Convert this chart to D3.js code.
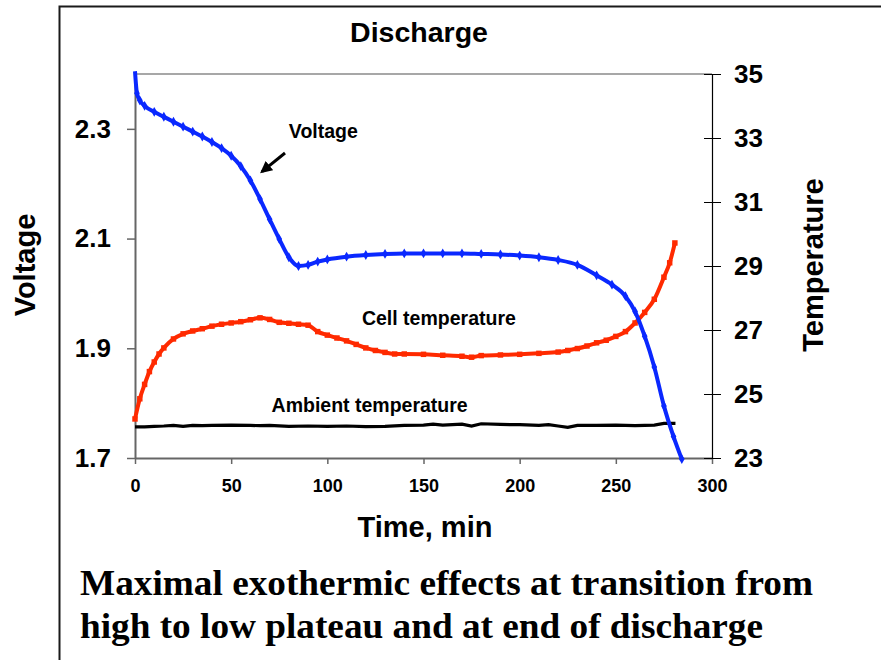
<!DOCTYPE html>
<html>
<head>
<meta charset="utf-8">
<style>
body {
  margin: 0;
  background: #ffffff;
  width: 881px;
  height: 660px;
  overflow: hidden;
}
.axis text {
  font-family: "Liberation Sans", Arial, Helvetica, sans-serif;
  font-weight: bold;
  fill: #000;
}
.title, .anno {
  font-family: "Liberation Sans", Arial, Helvetica, sans-serif;
  font-weight: bold;
  fill: #000;
}
.caption {
  font-family: "Liberation Serif", "Times New Roman", serif;
  font-weight: bold;
  fill: #000;
}
</style>
</head>
<body>
<svg width="881" height="660"></svg>
<script src="https://d3js.org/d3.v7.min.js"></script>
<script>

// ---- data ----
var timeV = [0, 1, 2.5, 5, 10, 15, 20, 25, 30, 35, 40, 45, 50, 55, 60, 65, 70, 75, 80, 85,
  90, 95, 100, 110, 120, 130, 140, 150, 160, 170, 180, 190, 200, 210, 220, 230, 240,
  248, 255, 260, 265, 270, 275, 280, 284.3];
var voltage = [2.405, 2.365, 2.352, 2.342, 2.331, 2.322, 2.313, 2.304, 2.295, 2.286, 2.276, 2.265, 2.251, 2.232, 2.206, 2.172, 2.135, 2.099, 2.066, 2.050,
  2.052, 2.058, 2.062, 2.067, 2.070, 2.072, 2.073, 2.073, 2.073, 2.073, 2.072, 2.071, 2.069, 2.066, 2.061, 2.052, 2.033,
  2.016, 1.995, 1.967, 1.922, 1.866, 1.795, 1.739, 1.698];

var timeCell = [0, 2.5, 5, 7.5, 10, 12.5, 15, 20, 25, 30, 35, 40, 45, 50, 55, 60, 65, 70, 75, 80,
  85, 90, 95, 100, 105, 110, 115, 120, 125, 130, 135, 140, 150, 160, 170, 175, 180, 190, 200,
  210, 220, 225, 230, 235, 240, 245, 250, 255, 260, 265, 270, 275, 278, 280.7];
var cellTemp = [24.22, 24.85, 25.3, 25.7, 26.0, 26.25, 26.44, 26.72, 26.88, 26.97, 27.04, 27.12, 27.18, 27.22, 27.26, 27.32, 27.38, 27.33, 27.24, 27.21,
  27.18, 27.15, 26.95, 26.84, 26.75, 26.66, 26.55, 26.44, 26.36, 26.30, 26.25, 26.25, 26.24, 26.21, 26.18, 26.15, 26.20, 26.22, 26.24,
  26.27, 26.31, 26.36, 26.42, 26.50, 26.60, 26.68, 26.80, 26.95, 27.22, 27.55, 27.96, 28.65, 29.10, 29.72];

var timeAmb = [0, 5, 10, 15, 20, 25, 30, 35, 40, 50, 60, 65, 70, 80, 90, 100, 110, 120, 130, 140,
  150, 155, 160, 170, 175, 180, 190, 200, 210, 215, 220, 225, 230, 240, 250, 260, 270, 275, 281];
var ambTemp = [23.97, 23.97, 23.99, 24.0, 24.02, 23.99, 24.02, 24.01, 24.02, 24.03, 24.02, 24.01, 24.02, 23.99, 24.0, 23.99, 24.0, 23.98, 23.99, 24.02,
  24.03, 24.06, 24.03, 24.06, 24.0, 24.07, 24.05, 24.04, 24.02, 24.04, 24.0, 23.96, 24.02, 24.02, 24.03, 24.01, 24.03, 24.08, 24.08];

var timeTicks = [0, 50, 100, 150, 200, 250, 300];
var voltTicks = [1.7, 1.9, 2.1, 2.3];
var tempTicks = [23, 25, 27, 29, 31, 33, 35];

var titleText = "Discharge";
var captionLines = ["Maximal exothermic effects at transition from",
                    "high to low plateau and at end of discharge"];

// ---- layout ----
var svg = d3.select("svg"),
    margin = {top: 74, right: 169, bottom: 202, left: 135},
    width = +svg.attr("width") - margin.left - margin.right,
    height = +svg.attr("height") - margin.top - margin.bottom;

var x = d3.scaleLinear().domain([0, 300]).range([0, width]),
    yV = d3.scaleLinear().domain([1.7, 2.4]).range([height, 0]),
    yT = d3.scaleLinear().domain([23, 35]).range([height, 0]);

// outer frame (left and top only)
svg.append("path")
    .attr("d", "M59.5,660 V6.5 H881")
    .attr("fill", "none")
    .attr("stroke", "#1a1a1a")
    .attr("stroke-width", 2);

var g = svg.append("g")
    .attr("transform", "translate(" + margin.left + "," + margin.top + ")");

// top border of plot
g.append("line")
    .attr("x1", 0).attr("x2", width)
    .attr("y1", 0).attr("y2", 0)
    .attr("stroke", "#8a8a8a")
    .attr("stroke-width", 1.5);

// left axis (voltage)
var axV = g.append("g")
    .attr("class", "axis axis--v")
    .call(d3.axisLeft(yV).tickValues(voltTicks).tickFormat(d3.format(".1f"))
      .tickSizeInner(8).tickSizeOuter(0).tickPadding(16));
axV.selectAll("text").attr("font-size", 26);

// bottom axis (time)
var axX = g.append("g")
    .attr("class", "axis axis--x")
    .attr("transform", "translate(0," + height + ")")
    .call(d3.axisBottom(x).tickValues(timeTicks)
      .tickSizeInner(6).tickSizeOuter(0).tickPadding(15));
axX.selectAll("text").attr("font-size", 18);

[axV, axX].forEach(function(a) {
  a.select(".domain").attr("stroke", "#666").attr("stroke-width", 2);
  a.selectAll(".tick line").attr("stroke", "#666").attr("stroke-width", 1.5);
});

// right axis (temperature)
var axT = g.append("g")
    .attr("class", "axis axis--t")
    .attr("transform", "translate(" + width + ",0)")
    .call(d3.axisRight(yT).tickValues(tempTicks)
      .tickSizeInner(9).tickSizeOuter(0).tickPadding(13));
axT.selectAll(".tick line").attr("x1", -8).attr("stroke", "#000").attr("stroke-width", 1);
axT.select(".domain").attr("stroke", "#000").attr("stroke-width", 1.2);
axT.selectAll("text").attr("font-size", 26);

// series
var voltData = timeV.map(function(t, i) { return {t: t, v: voltage[i]}; });
var cellData = timeCell.map(function(t, i) { return {t: t, v: cellTemp[i]}; });
var ambData = timeAmb.map(function(t, i) { return {t: t, v: ambTemp[i]}; });

var lineV = d3.line().curve(d3.curveMonotoneX)
    .x(function(d) { return x(d.t); })
    .y(function(d) { return yV(d.v); });
var lineT = d3.line().curve(d3.curveMonotoneX)
    .x(function(d) { return x(d.t); })
    .y(function(d) { return yT(d.v); });
var lineA = d3.line()
    .x(function(d) { return x(d.t); })
    .y(function(d) { return yT(d.v); });

g.append("path")
    .datum(ambData)
    .attr("fill", "none")
    .attr("stroke", "#000")
    .attr("stroke-width", 3.2)
    .attr("d", lineA);

g.append("path")
    .datum(cellData)
    .attr("fill", "none")
    .attr("stroke", "#ff2a00")
    .attr("stroke-width", 4)
    .attr("d", lineT);

g.selectAll(".mk-cell")
    .data(cellData)
  .enter().append("path")
    .attr("class", "mk-cell")
    .attr("transform", function(d) { return "translate(" + x(d.t) + "," + yT(d.v) + ")"; })
    .attr("d", d3.symbol().type(d3.symbolSquare).size(30))
    .attr("fill", "#ff2a00");

g.append("path")
    .datum(voltData)
    .attr("fill", "none")
    .attr("stroke", "#0a28ff")
    .attr("stroke-width", 4)
    .attr("d", lineV);

g.selectAll(".mk-volt")
    .data(voltData.slice(1))
  .enter().append("path")
    .attr("class", "mk-volt")
    .attr("transform", function(d) { return "translate(" + x(d.t) + "," + yV(d.v) + ")"; })
    .attr("d", d3.symbol().type(d3.symbolDiamond).size(28))
    .attr("fill", "#0a28ff");

// annotations
g.append("text")
    .attr("class", "anno")
    .attr("x", x(80))
    .attr("y", yV(2.3) + 9.5)
    .attr("font-size", 19.5)
    .text("Voltage");

g.append("defs").append("marker")
    .attr("id", "head")
    .attr("viewBox", "0 0 10 10")
    .attr("refX", 8).attr("refY", 5)
    .attr("markerWidth", 4).attr("markerHeight", 4)
    .attr("orient", "auto")
  .append("path")
    .attr("d", "M0,0 L10,5 L0,10 z")
    .attr("fill", "#000");

g.append("line")
    .attr("x1", x(78)).attr("y1", yV(2.256))
    .attr("x2", x(66)).attr("y2", yV(2.222))
    .attr("stroke", "#000")
    .attr("stroke-width", 3)
    .attr("marker-end", "url(#head)");

g.append("text")
    .attr("class", "anno")
    .attr("x", x(158))
    .attr("y", yT(27.2) + 1)
    .attr("text-anchor", "middle")
    .attr("font-size", 19.5)
    .text("Cell temperature");

g.append("text")
    .attr("class", "anno")
    .attr("x", x(122))
    .attr("y", yT(24.5) + 2)
    .attr("text-anchor", "middle")
    .attr("font-size", 19.5)
    .text("Ambient temperature");

// titles
svg.append("text")
    .attr("class", "title")
    .attr("x", 419).attr("y", 42)
    .attr("text-anchor", "middle")
    .attr("font-size", 28.5)
    .text(titleText);

svg.append("text")
    .attr("class", "title")
    .attr("x", 425).attr("y", 537)
    .attr("text-anchor", "middle")
    .attr("font-size", 29)
    .text("Time, min");

svg.append("text")
    .attr("class", "title")
    .attr("transform", "translate(35,265) rotate(-90)")
    .attr("text-anchor", "middle")
    .attr("font-size", 29)
    .text("Voltage");

svg.append("text")
    .attr("class", "title")
    .attr("transform", "translate(823,265) rotate(-90)")
    .attr("text-anchor", "middle")
    .attr("font-size", 29)
    .text("Temperature");

// caption under the chart
svg.selectAll(".caption")
    .data(captionLines)
  .enter().append("text")
    .attr("class", "caption")
    .attr("x", 80)
    .attr("y", function(d, i) { return 595 + i * 43; })
    .attr("font-size", 36)
    .attr("textLength", function(d, i) { return i === 0 ? 733 : 683; })
    .attr("lengthAdjust", "spacingAndGlyphs")
    .text(function(d) { return d; });

</script>
</body>
</html>
